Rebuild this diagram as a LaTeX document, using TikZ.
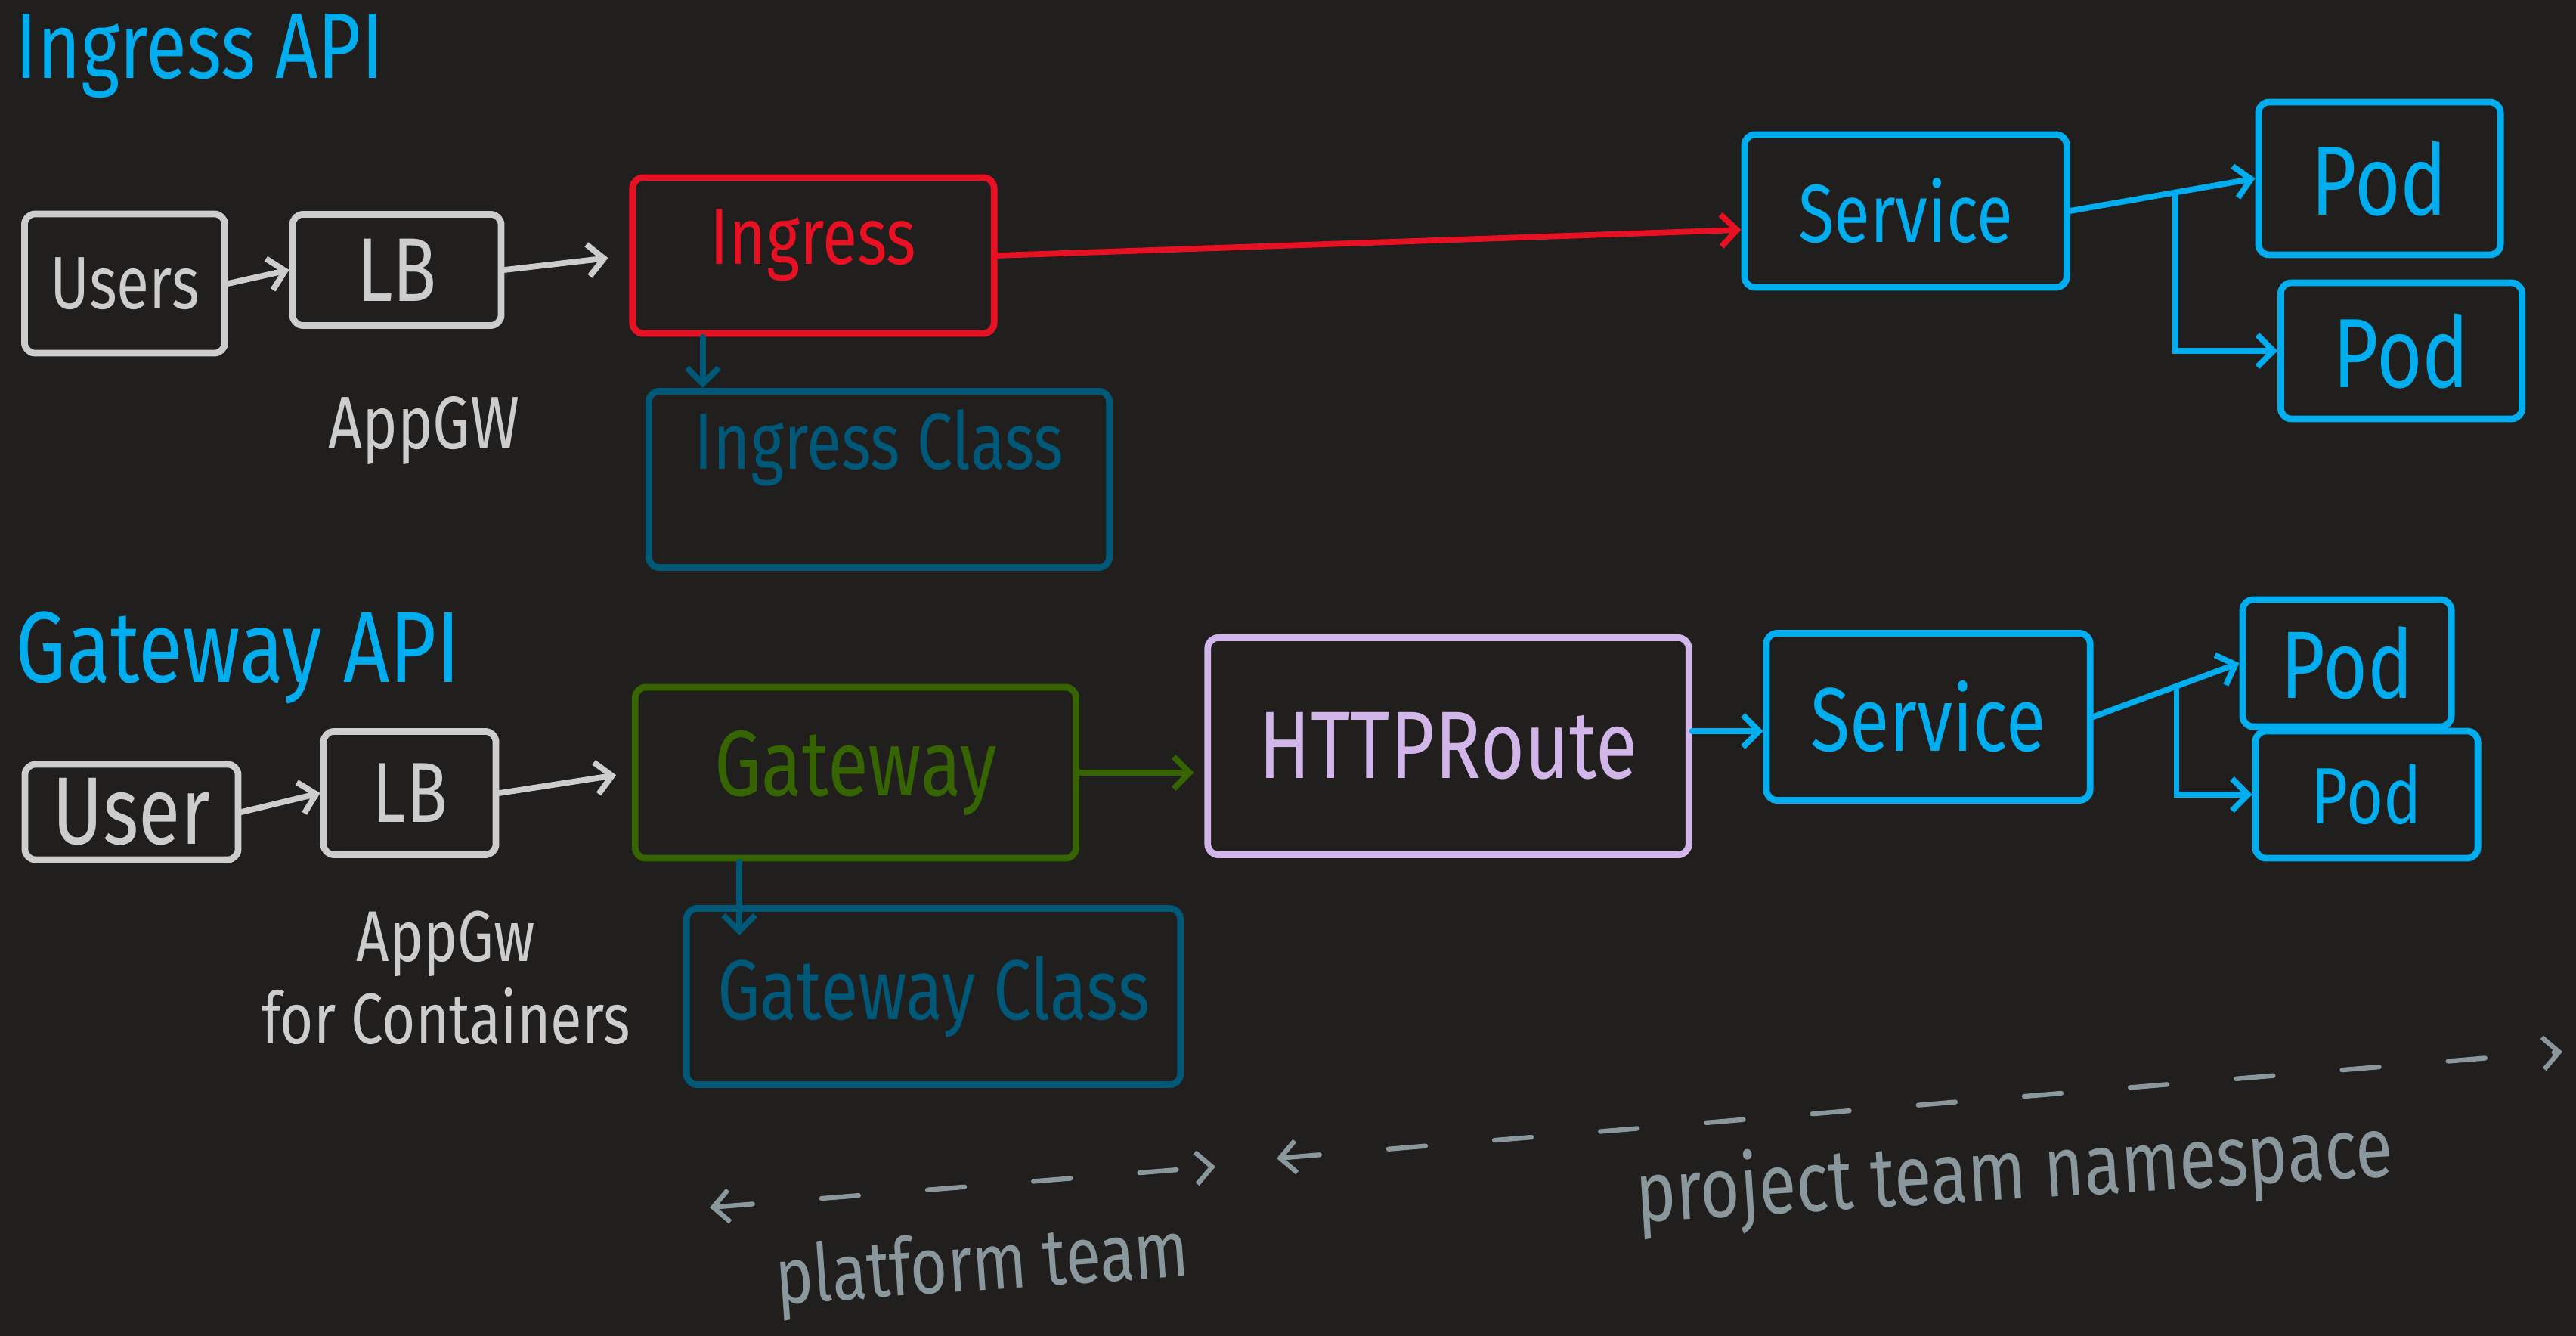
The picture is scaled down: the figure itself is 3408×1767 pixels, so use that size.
\documentclass[tikz,border=0pt]{standalone}
\usepackage{fontspec}
\setmainfont{Fira Sans}
\usepackage{graphicx}
\usetikzlibrary{arrows.meta,calc}
\definecolor{bg}{RGB}{32,31,30}
\definecolor{cyanc}{RGB}{0,174,239}
\definecolor{redc}{RGB}{232,17,35}
\definecolor{tealc}{RGB}{0,88,120}
\definecolor{greenc}{RGB}{54,100,0}
\definecolor{lavc}{RGB}{210,182,234}
\definecolor{greyc}{RGB}{205,205,205}
\definecolor{teamc}{RGB}{138,152,158}
\newcommand{\hw}[1]{\scalebox{0.8}[1]{#1}}
\begin{document}
\begin{tikzpicture}[x=0.01cm,y=-0.01cm,
  box/.style={draw, line width=2.5pt, rounded corners=4pt, inner sep=0pt, line join=round},
  fs/.style={font=\fontsize{#1}{#1}\selectfont},
  link/.style={line width=2.2pt, line cap=round, -{Straight Barb[length=6pt,width=12pt]}},
  team/.style={teamc, line width=1.8pt, line cap=round, dash pattern=on 14pt off 26pt,
    {Straight Barb[length=6pt,width=12pt]}-{Straight Barb[length=6pt,width=12pt]}},
  lbl/.style={inner sep=0pt}]
\useasboundingbox (0,0) rectangle (3408,1767);
\fill[bg] (0,0) rectangle (3408,1767);

% ---------- Ingress API ----------
\node[lbl, cyanc, fs=35, anchor=base west] (ttl1) at (20,104) {\hw{Ingress API}};

\node[box, greyc, minimum width=2.65cm, minimum height=1.84cm, fs=28] (users1) at (165,375) {\hw{Users}};
\node[box, greyc, minimum width=2.76cm, minimum height=1.47cm, fs=34] (lb1) at (525,357) {\hw{LB}};
\node[lbl, greyc, fs=28] (appgw1) at (561,569) {\hw{AppGW}};
\node[box, redc, minimum width=4.78cm, minimum height=2.06cm, fs=30, text depth=14pt] (ingress) at (1076,338) {\hw{Ingress}};
\node[box, tealc, minimum width=6.09cm, minimum height=2.33cm, fs=30, text depth=30pt] (iclass) at (1163,634) {\hw{Ingress Class}};
\node[box, cyanc, minimum width=4.26cm, minimum height=2.02cm, fs=31] (svc1) at (2521,279) {\hw{Service}};
\node[box, cyanc, minimum width=3.20cm, minimum height=2.02cm, fs=37] (pod1) at (3148,236) {\hw{Pod}};
\node[box, cyanc, minimum width=3.19cm, minimum height=1.80cm, fs=37] (pod2) at (3177,464) {\hw{Pod}};

\draw[link, greyc] (users1.east) -- (lb1.west);
\draw[link, greyc, shorten >=8pt] (lb1.east) -- (ingress.west);
\draw[link, redc] (ingress.east) -- ($(svc1.west)+(0,25)$);
\coordinate (ia) at ($(ingress.south west)!0.2!(ingress.south east)$);
\draw[link, tealc] (ia) -- (ia |- iclass.north);
\draw[link, cyanc] (svc1.east) -- (pod1.west);
\coordinate (b1) at ($(svc1.east)!0.57!(pod1.west)$);
\draw[link, cyanc] (b1) |- (pod2.west);

% ---------- Gateway API ----------
\node[lbl, cyanc, fs=38, anchor=base west] (ttl2) at (20,902) {\hw{Gateway API}};

\node[box, greyc, minimum width=2.82cm, minimum height=1.26cm, fs=36] (users2) at (174,1074) {\hw{User}};
\node[box, greyc, minimum width=2.28cm, minimum height=1.63cm, fs=32] (lb2) at (542,1049) {\hw{LB}};
\node[lbl, greyc, fs=27, align=center] (appgw2) at (590,1293) {\hw{AppGw}\\[4pt]\hw{for Containers}};
\node[box, greenc, minimum width=5.83cm, minimum height=2.26cm, fs=35] (gw) at (1132,1022) {\hw{Gateway}};
\node[box, tealc, minimum width=6.53cm, minimum height=2.33cm, fs=32] (gwclass) at (1235,1318) {\hw{Gateway Class}};
\node[box, lavc, minimum width=6.36cm, minimum height=2.87cm, fs=36] (http) at (1916,987) {\hw{HTTPRoute}};
\node[box, cyanc, minimum width=4.28cm, minimum height=2.21cm, fs=34] (svc2) at (2551,948) {\hw{Service}};
\node[box, cyanc, minimum width=2.76cm, minimum height=1.68cm, fs=36] (pod3) at (3105,877) {\hw{Pod}};
\node[box, cyanc, minimum width=2.94cm, minimum height=1.68cm, fs=30] (pod4) at (3131,1051) {\hw{Pod}};

\draw[link, greyc] (users2.east) -- (lb2.west);
\draw[link, greyc, shorten >=6pt] (lb2.east) -- (gw.west);
\draw[link, greenc, shorten >=4pt] (gw.east) -- (gw.east -| http.west);
\coordinate (ga) at ($(gw.south west)!0.24!(gw.south east)$);
\draw[link, tealc] (ga) -- ($(ga |- gwclass.north)+(0,40)$);
\draw[link, cyanc] ($(http.east)+(0,-20)$) -- ($(http.east -| svc2.west)+(0,-20)$);
\draw[link, cyanc] (svc2.east) -- (pod3.west);
\coordinate (b2) at ($(svc2.east)!0.57!(pod3.west)$);
\draw[link, cyanc] (b2) |- (pod4.west);

% ---------- teams ----------
\coordinate (pfl) at (939,1597);
\coordinate (pfr) at (1608,1543);
\draw[team] (pfl) -- (pfr);
\node[lbl, teamc, fs=30, rotate=4] (pft) at (1300,1678) {\hw{platform team}};
\coordinate (prl) at (1689,1532);
\coordinate (prr) at (3390,1391);
\draw[team] (prl) -- (prr);
\node[lbl, teamc, fs=32, rotate=3.5] (prt) at (2665,1554) {\hw{project team namespace}};
\end{tikzpicture}
\end{document}
